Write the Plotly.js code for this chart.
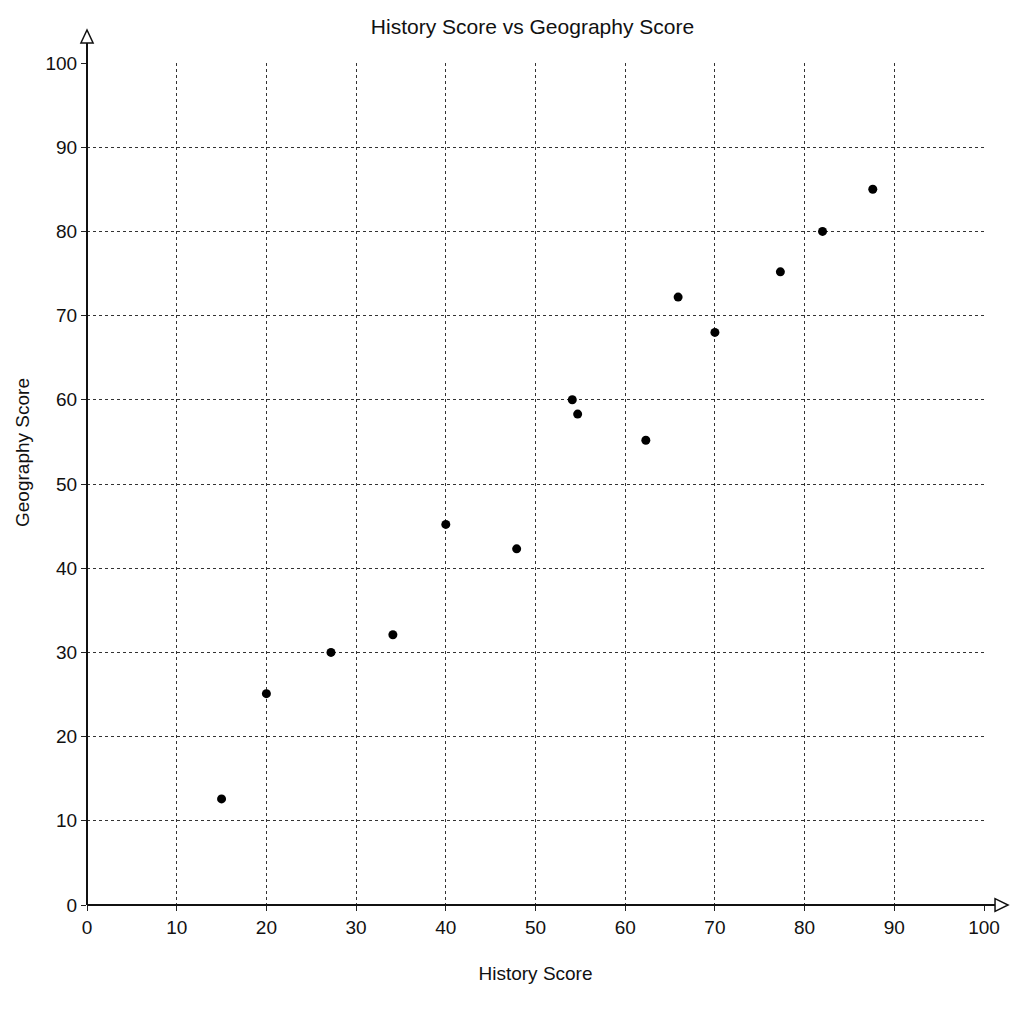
<!DOCTYPE html>
<html><head><meta charset="utf-8">
<script src="https://cdn.plot.ly/plotly-3.0.1.min.js"></script>
<style>html,body{margin:0;padding:0;background:#fff}#c{width:1024px;height:1024px}</style>
</head><body><div id="c"></div>
<script>
const historyScores = [15, 20, 27.2, 34.1, 40, 47.9, 54.1, 54.7, 62.3, 65.9, 70, 77.3, 82, 87.6];
const geographyScores = [12.6, 25.1, 30, 32.1, 45.2, 42.3, 60, 58.3, 55.2, 72.2, 68, 75.2, 80, 85];
const tickVals = [0,10,20,30,40,50,60,70,80,90,100];

const font = {family: "Liberation Sans, Arial, sans-serif", color: "#111"};
const trace = {
  x: historyScores, y: geographyScores, type: "scatter", mode: "markers",
  marker: {color: "#000", size: 9}, cliponaxis: false, hoverinfo: "none"
};
const axisBase = {
  range: [0, 100], tickvals: tickVals, ticks: "outside", ticklen: 5, tickcolor: "#222",
  showgrid: true, gridcolor: "#333", griddash: "3px,3px", gridwidth: 1,
  zeroline: false, showline: false, tickfont: {family: font.family, size: 19, color: "#111"},
  fixedrange: true
};
const layout = {
  width: 1024, height: 1024, paper_bgcolor: "#fff", plot_bgcolor: "#fff",
  margin: {l: 87, r: 40, t: 63, b: 119},
  showlegend: false,
  title: {text: "History Score vs Geography Score", x: 0.52, xanchor: "center", y: 0.974, yanchor: "middle",
          font: {family: font.family, size: 21, color: "#111"}},
  xaxis: Object.assign({}, axisBase, {title: {text: "History Score", standoff: 29, font: {family: font.family, size: 19, color: "#111"}}}),
  yaxis: Object.assign({}, axisBase, {title: {text: ""}}),
  annotations: [
    {text: "Geography Score", xref: "paper", yref: "paper", x: -0.0725, y: 0.538, textangle: -90,
     showarrow: false, xanchor: "center", yanchor: "middle", font: {family: font.family, size: 19, color: "#111"}}
  ],
  shapes: [
    {type: "line", xref: "paper", yref: "paper", x0: 0, y0: 0, x1: 1.0123, y1: 0, line: {color: "#111", width: 2}},
    {type: "line", xref: "paper", yref: "paper", x0: 0, y0: 0, x1: 0, y1: 1.0238, line: {color: "#111", width: 2}},
    {type: "path", xref: "paper", yref: "paper", path: "M 1.0123 -0.0075 L 1.0268 0 L 1.0123 0.0075 Z", fillcolor: "#fff", line: {color: "#111", width: 1.5}},
    {type: "path", xref: "paper", yref: "paper", path: "M -0.0068 1.0238 L 0 1.0392 L 0.0068 1.0238 Z", fillcolor: "#fff", line: {color: "#111", width: 1.5}}
  ]
};
Plotly.newPlot("c", [trace], layout, {displayModeBar: false, staticPlot: true});
</script></body></html>
